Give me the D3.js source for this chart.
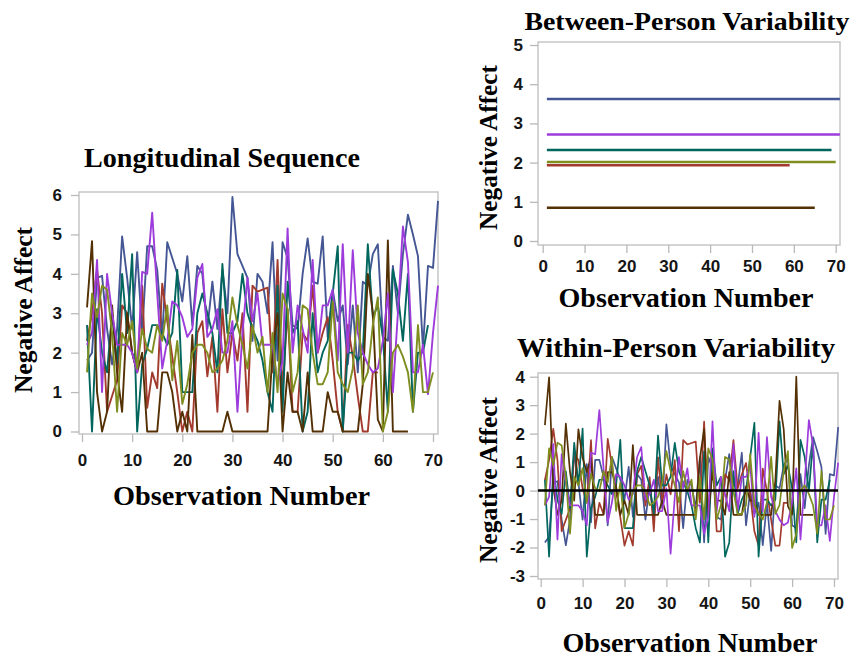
<!DOCTYPE html>
<html>
<head>
<meta charset="utf-8">
<script src="https://cdnjs.cloudflare.com/ajax/libs/d3/7.8.5/d3.min.js"></script>
<style>
  body { margin: 0; background: #fff; }
  .axis text { font-family: "Liberation Sans", Arial, sans-serif; font-weight: bold; font-size: 17px; fill: #151515; }
  .axis line { stroke: #b9b9b9; stroke-width: 1.3px; }
  .axis path { display: none; }
  .frame { fill: none; stroke: #c6c6c6; stroke-width: 1.5px; }
  .title { font-family: "Liberation Serif", "Times New Roman", serif; font-weight: bold; fill: #000; }
</style>
</head>
<body>
<script>
// six persons, SAS default group colours
var persons = ["Person 1", "Person 2", "Person 3", "Person 4", "Person 5", "Person 6"];
var personColors = ["#445694", "#A23A2E", "#01665E", "#543005", "#9D3CDB", "#7F8E1F"];

// negative affect per observation (observation number = index + 1)
var person1 = [1.8, 2.0, 3.9, 3.95, 2.6, 1.7, 2.6, 4.95, 3.9, 2.6,
  4.55, 2.5, 4.7, 4.7, 4.1, 2.4, 4.8, 4.4, 4.0, 3.3,
  4.45, 2.7, 4.2, 4.0, 2.6, 3.8, 2.6, 4.1, 3.0, 5.95,
  4.5, 4.2, 3.9, 2.3, 4.0, 3.8, 3.0, 4.8, 1.8, 4.8,
  4.4, 2.7, 2.6, 4.0, 4.9, 3.8, 3.75, 4.95, 2.4, 3.6,
  2.8, 3.2, 1.7, 3.2, 1.5, 3.8, 3.7, 4.5, 4.75, 2.4,
  2.3, 4.2, 3.0, 4.5, 5.5, 5.0, 4.45, 2.1, 4.2, 4.15,
  5.85];
var person2 = [2.3, 3.0, 4.1, 3.0, 0.5, 0.9, 1.3, 3.2, 3.0, 2.0,
  1.5, 3.7, 0.6, 1.5, 1.1, 3.75, 2.8, 1.9, 1.0, 0.0,
  0.5, 0.0, 2.5, 2.8, 1.4, 2.4, 0.5, 3.1, 1.5, 2.5,
  1.8, 3.0, 0.5, 3.7, 3.55, 3.6, 3.65, 1.5, 4.35, 1.0,
  3.1, 0.5, 0.5, 2.5, 2.3, 3.7, 2.0, 2.5, 2.9, 1.8,
  0.5, 0.0, 2.7, 1.9, 0.9, 0.0, 0.0, 1.5, 1.5];
var person3 = [2.7, 0.0, 3.1, 2.0, 1.5, 3.0, 1.7, 4.0, 2.5, 4.5,
  0.0, 1.7, 2.1, 2.7, 2.7, 2.5, 2.2, 2.5, 4.1, 1.0,
  1.0, 1.0, 3.0, 3.5, 3.0, 2.5, 1.5, 4.25, 2.5, 2.5,
  2.8, 4.0, 3.0, 2.6, 2.3, 1.8, 1.0, 0.5, 3.7, 0.5,
  3.8, 2.5, 2.8, 0.0, 0.5, 3.0, 1.5, 2.0, 2.3, 3.5,
  4.7, 0.0, 2.0, 2.0, 1.8, 2.0, 4.75, 2.9, 3.2, 2.4,
  0.5, 4.1, 3.5, 2.3, 4.0, 0.5, 2.0, 2.0, 2.7];
var person4 = [3.15, 4.83, 1.0, 0.0, 0.5, 3.2, 1.5, 0.5, 3.0, 2.0,
  1.5, 2.0, 0.0, 0.0, 0.0, 1.5, 1.5, 1.0, 0.0, 0.5,
  0.0, 2.45, 0.0, 0.0, 0.0, 0.0, 0.0, 0.0, 0.5, 0.0,
  0.0, 0.0, 0.0, 0.0, 0.0, 0.0, 0.0, 2.0, 3.0, 0.0,
  1.5, 0.5, 0.5, 0.0, 1.5, 0.0, 0.0, 0.0, 1.0, 0.5,
  0.5, 0.0, 0.0, 0.0, 0.0, 1.2, 4.0, 3.0, 0.3, 0.0,
  4.85, 0.0, 0.0, 0.0, 0.0];
var person5 = [2.2, 2.5, 4.35, 1.0, 4.0, 3.0, 2.2, 2.2, 2.2, 2.0,
  1.5, 4.05, 4.0, 5.55, 3.5, 1.6, 2.3, 3.3, 3.2, 2.9,
  2.4, 2.6, 3.9, 4.25, 2.4, 2.6, 3.1, 2.0, 2.0, 2.8,
  0.5, 2.5, 3.9, 2.8, 3.5, 2.2, 2.2, 2.2, 1.2, 1.8,
  5.15, 2.0, 3.2, 2.6, 2.0, 4.35, 2.0, 3.2, 3.2, 3.6,
  1.8, 4.75, 2.0, 4.6, 2.5, 2.0, 1.7, 1.5, 1.6, 2.3,
  3.5, 1.0, 3.0, 5.2, 4.3, 1.5, 1.5, 2.2, 0.95, 2.5,
  3.7];
var person6 = [1.5, 3.5, 2.9, 3.7, 3.6, 2.5, 0.5, 2.5, 2.2, 2.8,
  1.6, 2.6, 2.1, 2.0, 2.7, 2.3, 3.2, 1.3, 2.3, 0.7,
  1.2, 2.0, 2.2, 2.2, 2.0, 1.5, 1.6, 1.8, 2.3, 3.4,
  2.7, 2.2, 1.6, 2.7, 2.0, 2.4, 1.0, 2.5, 1.0, 3.5,
  3.1, 1.0, 1.5, 3.2, 3.1, 2.0, 1.2, 1.2, 1.5, 3.3,
  1.5, 1.2, 1.0, 1.6, 3.2, 1.2, 1.5, 2.7, 3.4, 0.0,
  0.5, 2.0, 2.2, 1.9, 1.5, 0.5, 2.7, 1.0, 1.0, 1.5];

// person means
var personMeans = [3.62, 1.93, 2.32, 0.85, 2.72, 2.015];

// tick labels
var obsTicks = [0, 10, 20, 30, 40, 50, 60, 70];
var longTicks = [0, 1, 2, 3, 4, 5, 6];
var betweenTicks = [0, 1, 2, 3, 4, 5];
var withinTicks = [-3, -2, -1, 0, 1, 2, 3, 4];

var allSeries = [person1, person2, person3, person4, person5, person6];

var svg = d3.select("body").append("svg")
  .attr("width", 856)
  .attr("height", 659);

// plain labels, hyphen for negatives like the original
function plain(d) { return String(d); }

// builds the frame, axes and titles of one panel, returns the scales
function panel(p) {
  var x = d3.scaleLinear().domain([0, 70]).range(p.xRange);
  var y = d3.scaleLinear().domain(p.yDomain).range(p.yRange);

  svg.append("rect")
    .attr("class", "frame")
    .attr("x", p.left).attr("y", p.top)
    .attr("width", p.right - p.left)
    .attr("height", p.bottom - p.top);

  svg.append("g")
    .attr("class", "axis")
    .attr("transform", "translate(0," + p.bottom + ")")
    .call(d3.axisBottom(x).tickValues(obsTicks).tickFormat(plain)
      .tickSize(8).tickPadding(p.xPad));

  svg.append("g")
    .attr("class", "axis")
    .attr("transform", "translate(" + p.left + ",0)")
    .call(d3.axisLeft(y).tickValues(p.yTicks).tickFormat(plain)
      .tickSize(8).tickPadding(p.yPad));

  // panel title
  svg.append("text")
    .attr("class", "title")
    .attr("x", p.title[0]).attr("y", p.title[1])
    .attr("text-anchor", "middle")
    .style("font-size", p.title[3] + "px")
    .attr("textLength", p.title[2])
    .attr("lengthAdjust", "spacingAndGlyphs")
    .text(p.title[4]);

  // x axis title
  svg.append("text")
    .attr("class", "title")
    .attr("x", p.xTitle[0]).attr("y", p.xTitle[1])
    .attr("text-anchor", "middle")
    .style("font-size", "28px")
    .attr("textLength", p.xTitle[2])
    .attr("lengthAdjust", "spacingAndGlyphs")
    .text("Observation Number");

  // y axis title
  svg.append("text")
    .attr("class", "title")
    .attr("transform", "translate(" + p.yTitle[0] + "," + p.yTitle[1] + ") rotate(-90)")
    .attr("text-anchor", "middle")
    .style("font-size", "26px")
    .attr("textLength", p.yTitle[2])
    .attr("lengthAdjust", "spacingAndGlyphs")
    .text("Negative Affect");

  return { x: x, y: y, p: p };
}

function drawSeries(sc, data, width) {
  var line = d3.line()
    .x(function(d, i) { return sc.x(i + 1); })
    .y(function(d) { return sc.y(d); });
  svg.append("g").selectAll("path")
    .data(data)
    .enter().append("path")
    .attr("d", line)
    .attr("fill", "none")
    .attr("stroke", function(d, i) { return personColors[i]; })
    .attr("stroke-width", width)
    .attr("stroke-linejoin", "round");
}

// Longitudinal Sequence
var left = panel({
  left: 79, right: 438, top: 192, bottom: 434,
  xRange: [82, 433], yDomain: [0, 6], yRange: [431.5, 195],
  yTicks: longTicks, xPad: 12, yPad: 9,
  title: [222, 167, 276, 28, "Longitudinal Sequence"],
  xTitle: [241.5, 505, 257],
  yTitle: [32, 310, 166]
});
drawSeries(left, allSeries, 1.9);

// Between-Person Variability
var between = panel({
  left: 538, right: 840, top: 42, bottom: 245,
  xRange: [542.7, 835.7], yDomain: [0, 5], yRange: [241, 45],
  yTicks: betweenTicks, xPad: 7, yPad: 7,
  title: [687, 30, 325, 26, "Between-Person Variability"],
  xTitle: [686, 307, 255],
  yTitle: [497, 147.5, 165]
});
svg.append("g").selectAll("line")
  .data(allSeries)
  .enter().append("line")
  .attr("x1", between.x(1))
  .attr("x2", function(d) { return between.x(d.length); })
  .attr("y1", function(d, i) { return between.y(personMeans[i]); })
  .attr("y2", function(d, i) { return between.y(personMeans[i]); })
  .attr("stroke", function(d, i) { return personColors[i]; })
  .attr("stroke-width", 2.5);

// Within-Person Variability
var within = panel({
  left: 538, right: 838, top: 373, bottom: 579,
  xRange: [540.7, 834], yDomain: [-3, 4], yRange: [576, 376.7],
  yTicks: withinTicks, xPad: 10, yPad: 5,
  title: [676, 357, 318, 28, "Within-Person Variability"],
  xTitle: [690, 652, 255],
  yTitle: [497, 480, 166]
});
var deviations = allSeries.map(function(s, i) {
  return s.map(function(v) { return v - personMeans[i]; });
});
drawSeries(within, deviations, 1.7);

svg.append("line")
  .attr("x1", within.p.left).attr("x2", within.p.right)
  .attr("y1", within.y(0)).attr("y2", within.y(0))
  .attr("stroke", "#000")
  .attr("stroke-width", 2.5);
</script>
</body>
</html>
